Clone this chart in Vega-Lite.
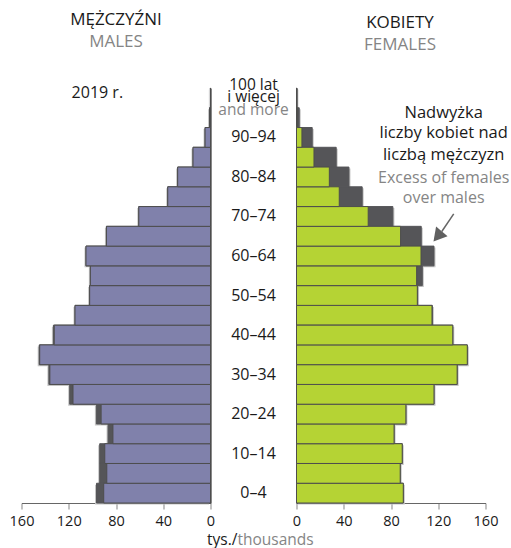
{
  "$schema": "https://vega.github.io/schema/vega-lite/v6.json",
  "padding": {"left": 8.5, "top": 10, "right": 0, "bottom": 0},
  "background": "white",
  "bounds": "flush",
  "spacing": 0,
  "config": {
    "font": "Open Sans",
    "view": {"stroke": null},
    "concat": {"spacing": 0},
    "axisX": {"title": null, "labelFontSize": 14.5, "labelColor": "#1a1a1a", "tickColor": "#9a9a9a", "tickSize": 6, "tickWidth": 1.2, "domainColor": "#666666", "domainWidth": 1.2, "grid": false, "labelPadding": 5.5, "labelFlush": false},
    "axisY": {"domainColor": "#555555", "domainWidth": 1.4, "ticks": false, "labels": false, "title": null, "grid": false},
    "title": {"fontSize": 17, "fontWeight": "normal", "color": "#1a1a1a", "subtitleFontSize": 17, "subtitleColor": "#858585", "subtitlePadding": 5, "anchor": "middle", "offset": 34}
  },
  "datasets": {
    "pop": [
      {"age": "0–4", "males": 96.5, "females": 90.4},
      {"age": "5–9", "males": 93.8, "females": 87.8},
      {"age": "10–14", "males": 93.8, "females": 89.5},
      {"age": "15–19", "males": 86.7, "females": 82.6},
      {"age": "20–24", "males": 96.6, "females": 92.6},
      {"age": "25–29", "males": 119.2, "females": 116.4},
      {"age": "30–34", "males": 136.8, "females": 136.0},
      {"age": "35–39", "males": 145.0, "females": 144.6},
      {"age": "40–44", "males": 133.0, "females": 132.3},
      {"age": "45–49", "males": 114.7, "females": 115.0},
      {"age": "50–54", "males": 102.3, "females": 102.5},
      {"age": "55–59", "males": 101.7, "females": 106.5},
      {"age": "60–64", "males": 105.4, "females": 116.4},
      {"age": "65–69", "males": 88.1, "females": 105.6},
      {"age": "70–74", "males": 60.7, "females": 81.6},
      {"age": "75–79", "males": 36.2, "females": 55.6},
      {"age": "80–84", "males": 27.8, "females": 44.4},
      {"age": "85–89", "males": 14.8, "females": 33.6},
      {"age": "90–94", "males": 4.6, "females": 13.3},
      {"age": "95–99", "males": 0.8, "females": 2.3},
      {"age": "100+", "males": 0.1, "females": 0.3}
    ],
    "labels": [
      {"age": "0–4", "label": "0–4"},
      {"age": "10–14", "label": "10–14"},
      {"age": "20–24", "label": "20–24"},
      {"age": "30–34", "label": "30–34"},
      {"age": "40–44", "label": "40–44"},
      {"age": "50–54", "label": "50–54"},
      {"age": "60–64", "label": "60–64"},
      {"age": "70–74", "label": "70–74"},
      {"age": "80–84", "label": "80–84"},
      {"age": "90–94", "label": "90–94"}
    ]
  },
  "hconcat": [
    {
      "width": 189,
      "height": 415,
      "title": {"text": "MĘŻCZYŹNI", "subtitle": "MALES"},
      "data": {"name": "pop"},
      "encoding": {
        "y": {"field": "age", "type": "nominal", "scale": {"domain": ["100+", "95–99", "90–94", "85–89", "80–84", "75–79", "70–74", "65–69", "60–64", "55–59", "50–54", "45–49", "40–44", "35–39", "30–34", "25–29", "20–24", "15–19", "10–14", "5–9", "0–4"], "paddingInner": 0, "paddingOuter": 0}, "axis": {"orient": "right"}}
      },
      "layer": [
        {
          "mark": {"type": "bar", "fill": "#c4c4c4", "xOffset": -1.5, "x2Offset": -1.5, "yOffset": 1.5},
          "encoding": {"x": {"field": "males", "type": "quantitative", "scale": {"domain": [0, 160], "reverse": true}, "title": null, "axis": {"values": [0, 40, 80, 120, 160]}}}
        },
        {
          "mark": {"type": "bar", "fill": "#555558", "stroke": "#555558", "strokeWidth": 1},
          "encoding": {"x": {"field": "males", "type": "quantitative", "title": null}}
        },
        {
          "transform": [{"filter": "datum.males > datum.females"}],
          "mark": {"type": "bar", "fill": "#8081ab", "stroke": "#4d4d4d", "strokeWidth": 1},
          "encoding": {"x": {"field": "females", "type": "quantitative", "title": null}}
        },
        {
          "transform": [{"filter": "datum.males <= datum.females"}],
          "mark": {"type": "bar", "fill": "#8081ab", "stroke": "#4d4d4d", "strokeWidth": 1},
          "encoding": {"x": {"field": "males", "type": "quantitative", "title": null}}
        },
        {
          "data": {"values": [{"label": "2019 r."}]},
          "mark": {"type": "text", "fontSize": 16, "color": "#1a1a1a", "dy": -5},
          "encoding": {"x": {"datum": 95.8, "type": "quantitative"}, "y": {"datum": "100+"}, "text": {"field": "label"}}
        }
      ]
    },
    {
      "width": 86,
      "height": 415,
      "encoding": {
        "y": {"field": "age", "type": "nominal", "scale": {"domain": ["100+", "95–99", "90–94", "85–89", "80–84", "75–79", "70–74", "65–69", "60–64", "55–59", "50–54", "45–49", "40–44", "35–39", "30–34", "25–29", "20–24", "15–19", "10–14", "5–9", "0–4"], "paddingInner": 0, "paddingOuter": 0}, "axis": null}
      },
      "layer": [
        {
          "data": {"name": "labels"},
          "mark": {"type": "text", "fontSize": 16, "color": "#1a1a1a"},
          "encoding": {"text": {"field": "label"}}
        },
        {
          "data": {"values": [{"age": "100+", "label": "100 lat"}]},
          "mark": {"type": "text", "fontSize": 15.5, "color": "#1a1a1a", "dy": -12.5},
          "encoding": {"text": {"field": "label"}}
        },
        {
          "data": {"values": [{"age": "100+", "label": "i więcej"}]},
          "mark": {"type": "text", "fontSize": 15.5, "color": "#1a1a1a", "dy": -1},
          "encoding": {"text": {"field": "label"}}
        },
        {
          "data": {"values": [{"age": "100+", "label": "and more"}]},
          "mark": {"type": "text", "fontSize": 15.5, "color": "#858585", "dy": 12},
          "encoding": {"text": {"field": "label"}}
        },
        {
          "data": {"values": [{"age": "0–4", "label": "tys./"}]},
          "mark": {"type": "text", "fontSize": 15.5, "color": "#1a1a1a", "align": "right", "dx": -16, "dy": 47},
          "encoding": {"text": {"field": "label"}}
        },
        {
          "data": {"values": [{"age": "0–4", "label": "thousands"}]},
          "mark": {"type": "text", "fontSize": 15.5, "color": "#858585", "align": "left", "dx": -16, "dy": 47},
          "encoding": {"text": {"field": "label"}}
        }
      ]
    },
    {
      "width": 189,
      "height": 415,
      "title": {"text": "KOBIETY", "subtitle": "FEMALES", "dx": 9},
      "resolve": {"scale": {"y": "independent"}},
      "layer": [
        {
          "data": {"name": "pop"},
          "encoding": {
            "y": {"field": "age", "type": "nominal", "scale": {"domain": ["100+", "95–99", "90–94", "85–89", "80–84", "75–79", "70–74", "65–69", "60–64", "55–59", "50–54", "45–49", "40–44", "35–39", "30–34", "25–29", "20–24", "15–19", "10–14", "5–9", "0–4"], "paddingInner": 0, "paddingOuter": 0}, "axis": {"orient": "left"}}
          },
          "layer": [
            {
              "mark": {"type": "bar", "fill": "#c4c4c4", "xOffset": 1.5, "x2Offset": 1.5, "yOffset": 1.5},
              "encoding": {"x": {"field": "females", "type": "quantitative", "scale": {"domain": [0, 160]}, "title": null, "axis": {"values": [0, 40, 80, 120, 160]}}}
            },
            {
              "mark": {"type": "bar", "fill": "#555558", "stroke": "#555558", "strokeWidth": 1},
              "encoding": {"x": {"field": "females", "type": "quantitative", "title": null}}
            },
            {
              "transform": [{"filter": "datum.females > datum.males"}],
              "mark": {"type": "bar", "fill": "#b5d334", "stroke": "#4d4d4d", "strokeWidth": 1},
              "encoding": {"x": {"field": "males", "type": "quantitative", "title": null}}
            },
            {
              "transform": [{"filter": "datum.females <= datum.males"}],
              "mark": {"type": "bar", "fill": "#b5d334", "stroke": "#4d4d4d", "strokeWidth": 1},
              "encoding": {"x": {"field": "females", "type": "quantitative", "title": null}}
            }
          ]
        },
        {
          "data": {"values": [{"label": "Nadwyżka"}]},
          "mark": {"type": "text", "fontSize": 16.5, "color": "#1a1a1a"},
          "encoding": {"x": {"datum": 124.6, "type": "quantitative"}, "y": {"datum": 19.75, "type": "quantitative", "scale": {"domain": [0, 21]}, "axis": null}, "text": {"field": "label"}}
        },
        {
          "data": {"values": [{"label": "liczby kobiet nad"}]},
          "mark": {"type": "text", "fontSize": 16.5, "color": "#1a1a1a"},
          "encoding": {"x": {"datum": 124.6, "type": "quantitative"}, "y": {"datum": 18.7, "type": "quantitative", "scale": {"domain": [0, 21]}, "axis": null}, "text": {"field": "label"}}
        },
        {
          "data": {"values": [{"label": "liczbą mężczyzn"}]},
          "mark": {"type": "text", "fontSize": 16.5, "color": "#1a1a1a"},
          "encoding": {"x": {"datum": 124.6, "type": "quantitative"}, "y": {"datum": 17.61, "type": "quantitative", "scale": {"domain": [0, 21]}, "axis": null}, "text": {"field": "label"}}
        },
        {
          "data": {"values": [{"label": "Excess of females"}]},
          "mark": {"type": "text", "fontSize": 16, "color": "#858585"},
          "encoding": {"x": {"datum": 124.6, "type": "quantitative"}, "y": {"datum": 16.46, "type": "quantitative", "scale": {"domain": [0, 21]}, "axis": null}, "text": {"field": "label"}}
        },
        {
          "data": {"values": [{"label": "over males"}]},
          "mark": {"type": "text", "fontSize": 16, "color": "#858585"},
          "encoding": {"x": {"datum": 124.6, "type": "quantitative"}, "y": {"datum": 15.42, "type": "quantitative", "scale": {"domain": [0, 21]}, "axis": null}, "text": {"field": "label"}}
        },
        {
          "data": {"values": [{"label": "arrow"}]},
          "mark": {"type": "rule", "color": "#666666", "strokeWidth": 1.5},
          "encoding": {"x": {"datum": 133.1, "type": "quantitative"}, "x2": {"datum": 123.0}, "y": {"datum": 14.63, "type": "quantitative", "scale": {"domain": [0, 21]}, "axis": null}, "y2": {"datum": 13.74}}
        },
        {
          "data": {"values": [{"label": "arrowhead"}]},
          "mark": {"type": "point", "shape": "triangle-down", "filled": true, "color": "#606060", "opacity": 1, "size": 225, "angle": 40},
          "encoding": {"x": {"datum": 119.5, "type": "quantitative"}, "y": {"datum": 13.49, "type": "quantitative", "scale": {"domain": [0, 21]}, "axis": null}}
        }
      ]
    }
  ]
}
